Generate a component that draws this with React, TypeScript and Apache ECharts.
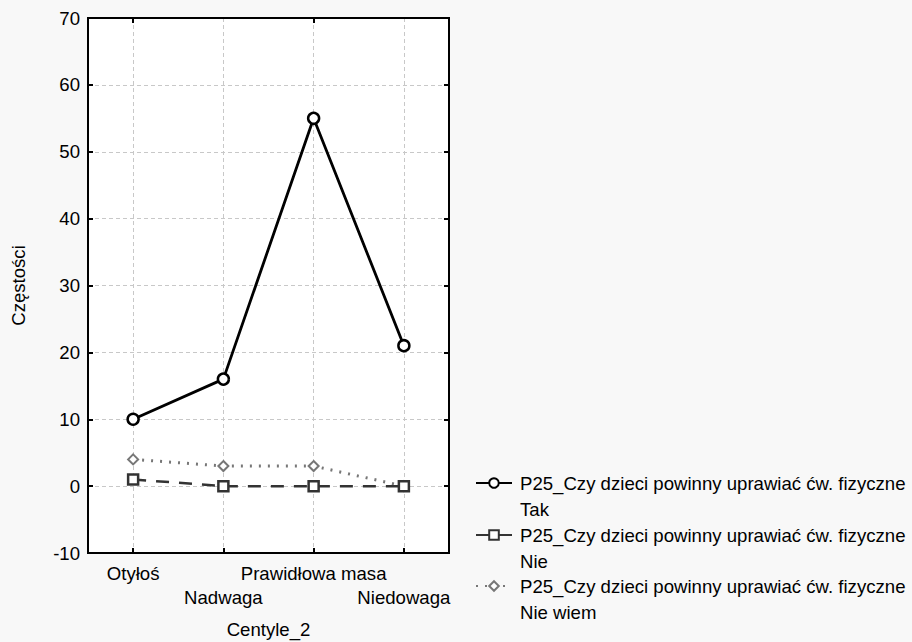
import React, { useEffect, useRef } from "react";
import * as echarts from "echarts";

const categories = ["Otyłoś", "Nadwaga", "Prawidłowa masa", "Niedowaga"];
const takValues = [10, 16, 55, 21];
const nieValues = [1, 0, 0, 0];
const nieWiemValues = [4, 3, 3, 0];
const seriesNames = ["Tak", "Nie", "Nie wiem"];
const legendPrefix = "P25_Czy dzieci powinny uprawiać ćw. fizyczne";
const yMin = -10;
const yMax = 70;
const yStep = 10;

const FONT = "'Liberation Sans', Arial, sans-serif";
const FS = 18.6;

export default function App() {
  const ref = useRef<HTMLDivElement>(null);
  useEffect(() => {
    document.body.style.margin = "0";
    const chart = echarts.init(ref.current!, undefined, { renderer: "svg" });
    const labelStyle = { fontFamily: FONT, fontSize: FS, color: "#000" };
    const rowStyle = { fontFamily: FONT, fontSize: FS, color: "#000", lineHeight: 26, height: 26, padding: [0, 0, 0, 3] };
    const mkLegend = (name: string, top: number) => ({
      data: [name],
      left: 475,
      top,
      padding: 0,
      itemWidth: 36,
      itemHeight: 12,
      itemGap: 0,
      textStyle: {
        fontFamily: FONT,
        fontSize: FS,
        color: "#000",
        lineHeight: 26,
        rich: { s: rowStyle, a: rowStyle, b: rowStyle },
      },
      formatter: (n: string) => "{s| }\n{a|" + legendPrefix + "}\n{b|" + n + "}",
    });
    chart.setOption({
      animation: false,
      backgroundColor: "#f8f8f8",
      textStyle: { fontFamily: FONT },
      grid: {
        left: 88,
        right: 463,
        top: 18,
        bottom: 89,
        containLabel: false,
        outerBoundsMode: "none",
        show: true,
        backgroundColor: "#fff",
        borderColor: "#000",
        borderWidth: 2,
      },
      legend: [mkLegend(seriesNames[0], 444), mkLegend(seriesNames[1], 496), mkLegend(seriesNames[2], 547)],
      xAxis: [
        {
          type: "category",
          data: categories,
          boundaryGap: true,
          position: "bottom",
          name: "Centyle_2",
          nameLocation: "middle",
          nameGap: 67,
          nameTextStyle: labelStyle,
          axisLine: { show: true, onZero: false, lineStyle: { color: "#000", width: 2 } },
          axisTick: { show: true, inside: true, alignWithLabel: true, length: 5, lineStyle: { color: "#000", width: 2 } },
          axisLabel: {
            ...labelStyle,
            margin: 8,
            lineHeight: 24,
            interval: 0,
            formatter: (v: string, i: number) => (i % 2 === 1 ? "\n" + v : v),
          },
          splitLine: { show: true, alignWithLabel: true, lineStyle: { color: "#c8c8c8", type: [4, 3], width: 1 } },
        },
        {
          type: "category",
          data: categories,
          boundaryGap: true,
          position: "top",
          axisLine: { show: true, onZero: false, lineStyle: { color: "#000", width: 2 } },
          axisTick: { show: true, inside: true, alignWithLabel: true, length: 5, lineStyle: { color: "#000", width: 2 } },
          axisLabel: { show: false },
          splitLine: { show: false },
        },
      ],
      yAxis: [
        {
          type: "value",
          min: yMin,
          max: yMax,
          interval: yStep,
          position: "left",
          name: "Częstości",
          nameLocation: "middle",
          nameGap: 60,
          nameTextStyle: labelStyle,
          axisLine: { show: true, onZero: false, lineStyle: { color: "#000", width: 2 } },
          axisTick: { show: true, inside: true, length: 5, lineStyle: { color: "#000", width: 2 } },
          axisLabel: { ...labelStyle, margin: 8 },
          splitLine: { show: true, lineStyle: { color: "#c8c8c8", type: [4, 3], width: 1 } },
        },
        {
          type: "value",
          min: yMin,
          max: yMax,
          interval: yStep,
          position: "right",
          axisLine: { show: true, onZero: false, lineStyle: { color: "#000", width: 2 } },
          axisTick: { show: true, inside: true, length: 5, lineStyle: { color: "#000", width: 2 } },
          axisLabel: { show: false },
          splitLine: { show: false },
        },
      ],
      series: [
        {
          name: seriesNames[2],
          type: "line",
          data: nieWiemValues,
          symbol: "diamond",
          symbolSize: 10,
          itemStyle: { color: "#fff", borderColor: "#777", borderWidth: 2 },
          lineStyle: { color: "#777", width: 3, type: [2, 7] },
          z: 2,
        },
        {
          name: seriesNames[1],
          type: "line",
          data: nieValues,
          symbol: "rect",
          symbolSize: 10,
          itemStyle: { color: "#fff", borderColor: "#333", borderWidth: 2.5 },
          lineStyle: { color: "#333", width: 2.5, type: [13, 10] },
          z: 3,
        },
        {
          name: seriesNames[0],
          type: "line",
          data: takValues,
          symbol: "circle",
          symbolSize: 11,
          itemStyle: { color: "#fff", borderColor: "#000", borderWidth: 2.5 },
          lineStyle: { color: "#000", width: 2.8 },
          z: 4,
        },
      ],
    });
    return () => chart.dispose();
  }, []);
  return <div ref={ref} style={{ width: 912, height: 642 }} />;
}
